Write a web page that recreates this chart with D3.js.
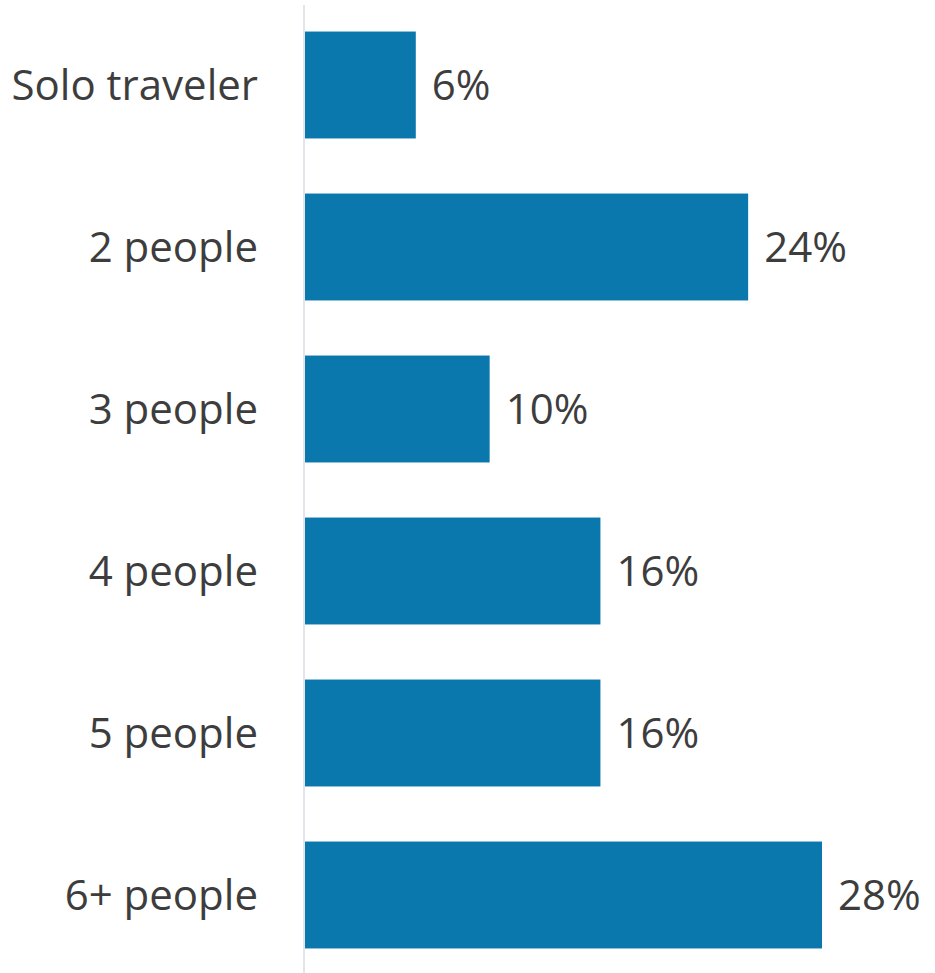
<!DOCTYPE html>
<html>
<head>
<meta charset="utf-8">
<script src="https://cdn.jsdelivr.net/npm/d3@7"></script>
<style>
	body { margin: 0; background: #fff; }
	text { font-family: "Open Sans", sans-serif; fill: #3d3d3d; }
</style>
</head>
<body>
<div id="chart"></div>
<script>
var categories = ['Solo traveler', '2 people', '3 people', '4 people', '5 people', '6+ people'];
var shares = [6, 24, 10, 16, 16, 28];

var width = 935, height = 973;
var margin = { left: 305, top: 4 };
var fontSize = 42;

var svg = d3.select('#chart').append('svg')
	.attr('width', width)
	.attr('height', height);

var xScale = d3.scaleLinear()
	.domain([0, 28])
	.range([0, 517]);

var yScale = d3.scaleBand()
	.domain(categories)
	.range([0, 972])
	.paddingInner(0.34)
	.paddingOuter(0.17);

var plot = svg.append('g')
	.attr('transform', 'translate(' + margin.left + ',' + margin.top + ')');

/* bars */
plot.selectAll('rect.bar')
	.data(shares)
	.enter().append('rect')
	.attr('class', 'bar')
	.attr('x', 0)
	.attr('y', function (d, i) { return yScale(categories[i]); })
	.attr('width', function (d) { return xScale(d); })
	.attr('height', yScale.bandwidth())
	.attr('fill', '#0a77ad');

/* value labels */
plot.selectAll('text.value')
	.data(shares)
	.enter().append('text')
	.attr('class', 'value')
	.attr('x', function (d) { return xScale(d) + 16; })
	.attr('y', function (d, i) { return yScale(categories[i]) + yScale.bandwidth() / 2; })
	.attr('dy', '0.36em')
	.attr('font-size', fontSize)
	.text(function (d) { return d + '%'; });

/* category axis */
var yAxis = d3.axisLeft(yScale).tickSize(0).tickPadding(46);
var yAxisG = plot.append('g')
	.attr('transform', 'translate(-1,0)')
	.call(yAxis);
yAxisG.select('.domain')
	.attr('d', 'M0,1V' + height)
	.attr('stroke', '#d9dee6')
	.attr('stroke-width', 1.5);
yAxisG.selectAll('text')
	.attr('font-family', '"Open Sans", sans-serif')
	.attr('font-size', fontSize)
	.attr('fill', '#3d3d3d')
	.attr('dy', '0.36em');
</script>
</body>
</html>
